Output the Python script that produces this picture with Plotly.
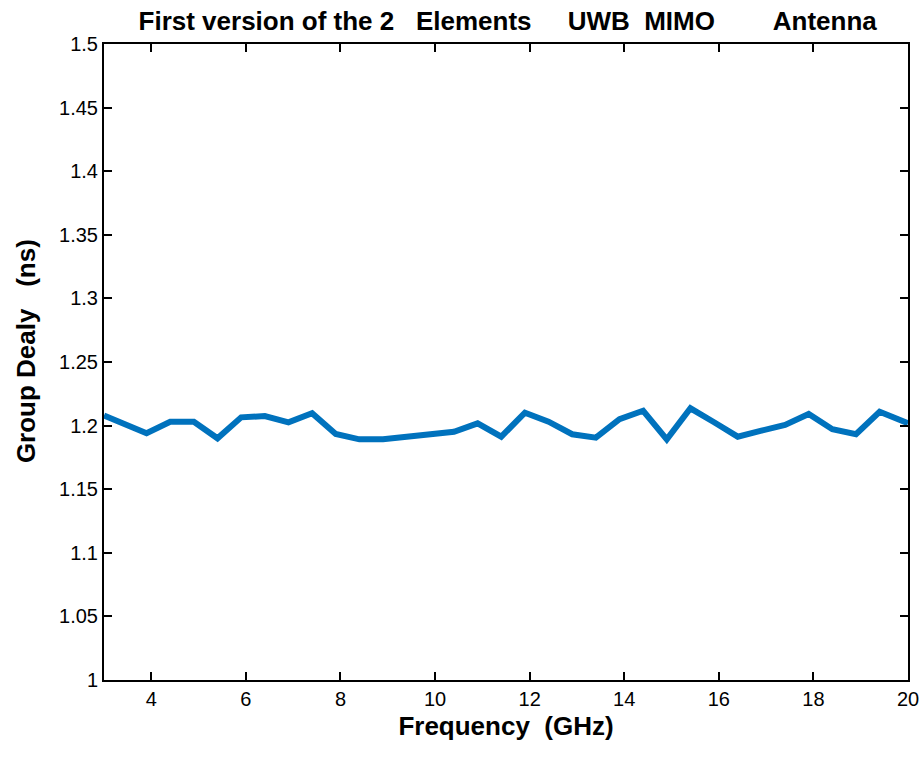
import plotly.graph_objects as go

freq = [3.0, 3.9, 4.4, 4.9, 5.4, 5.9, 6.4, 6.9, 7.4, 7.9, 8.4, 8.9, 9.4, 9.9,
        10.4, 10.9, 11.4, 11.9, 12.4, 12.9, 13.4, 13.9, 14.4, 14.9, 15.4, 15.9,
        16.4, 16.9, 17.4, 17.9, 18.4, 18.9, 19.4, 20.0]
delay = [1.208, 1.194, 1.203, 1.203, 1.190, 1.2065, 1.2075, 1.2026, 1.2097, 1.1934,
         1.1892, 1.1892, 1.1912, 1.1932, 1.1952, 1.2018, 1.1913, 1.2101, 1.2031,
         1.1932, 1.1905, 1.2050, 1.2117, 1.1892, 1.2136, 1.2026, 1.1913, 1.1960,
         1.2005, 1.2091, 1.1971, 1.1932, 1.2109, 1.2018]

x_ticks = [4, 6, 8, 10, 12, 14, 16, 18, 20]
y_ticks = [1, 1.05, 1.1, 1.15, 1.2, 1.25, 1.3, 1.35, 1.4, 1.45, 1.5]
y_ticktext = ["1", "1.05", "1.1", "1.15", "1.2", "1.25", "1.3", "1.35", "1.4", "1.45", "1.5"]

NB = "\u00a0"
title = ("First version of the 2" + NB * 3 + "Elements" + NB * 5 + "UWB" + NB * 2 +
         "MIMO" + NB * 8 + "Antenna")

font_fam = "Liberation Sans, Arial, Helvetica"

fig = go.Figure()
fig.add_trace(go.Scatter(x=freq, y=delay, mode="lines",
                         line=dict(color="#0072BD", width=6),
                         showlegend=False))

axis_common = dict(showgrid=False, zeroline=False, showline=True, linecolor="black",
                   linewidth=2, mirror="ticks", ticks="inside", ticklen=8,
                   tickwidth=1.5, tickcolor="black", automargin=False,
                   tickfont=dict(family=font_fam, size=20, color="black"))

fig.update_layout(
    width=923, height=760,
    margin=dict(l=104, r=15, t=44, b=80),
    paper_bgcolor="white", plot_bgcolor="white",
    title=dict(text="<b>" + title + "</b>", x=0.55, xanchor="center",
               y=0.973, yanchor="middle",
               font=dict(family=font_fam, size=26, color="black")),
    xaxis=dict(range=[3, 20], tickvals=x_ticks,
               title=dict(text="<b>Frequency" + NB * 2 + "(GHz)</b>", standoff=8,
                          font=dict(family=font_fam, size=26, color="black")),
               **axis_common),
    yaxis=dict(range=[1, 1.5], tickvals=y_ticks, ticktext=y_ticktext,
               title=dict(text="<b>" + NB * 3 + "Group Dealy" + NB * 3 + "(ns)</b>",
                          standoff=16,
                          font=dict(family=font_fam, size=26, color="black")),
               **axis_common),
)

fig.write_html("out.html")
